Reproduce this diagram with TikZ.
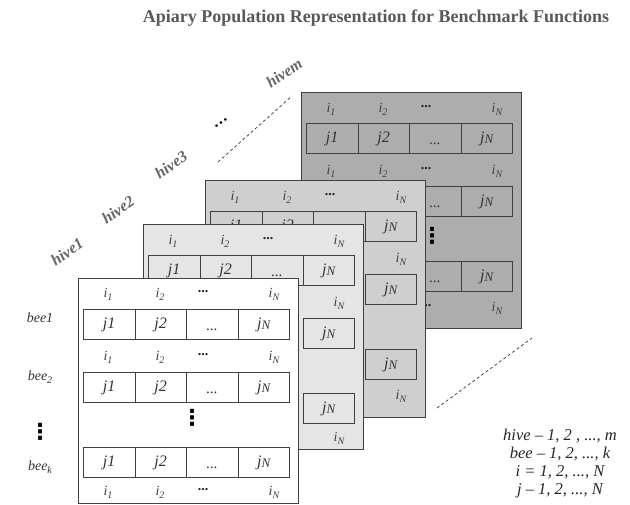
\documentclass[tikz,border=0pt]{standalone}
\usepackage{fontspec}
\setmainfont{Liberation Serif}
\newfontfamily\dotsfont{DejaVu Sans}

% lowered small index after a letter
\newcommand\lowidx[1]{\raisebox{-3pt}{\fontsize{10}{10}\selectfont #1}}

% index labels of one row: #1 name prefix, #2 y
\newcommand\idxrow[2]{%
  \node[idx] (#1-1) at (30,#2) {i\lowidx{1}};
  \node[idx] (#1-2) at (82,#2) {i\lowidx{2}};
  \node[idxdots] (#1-3) at (125,#2-2) {...};
  \node[idx] (#1-4) at (196,#2) {i\lowidx{N}};}
\newcommand\idxlast[2]{%
  \node[idx] (#1-4) at (196,#2) {i\lowidx{N}};}
% cells of one bee: #1 name prefix, #2 top y
\newcommand\cellsfront[2]{%
  \node[cellbox] (#1-c1) at (5,#2) {j1};
  \node[cellbox] (#1-c2) at (56.5,#2) {j2};}
\newcommand\cellsdots[2]{%
  \node[cellbox] (#1-c3) at (108,#2) {};
  \node[celldots] (#1-d) at (133.75,#2+21) {...};}
\newcommand\cellslast[2]{%
  \node[cellbox] (#1-c4) at (159.5,#2) {j\raisebox{-1.5pt}{\fontsize{13}{13}\selectfont N}};}

\begin{document}
\begin{tikzpicture}[x=1pt, y=-1pt,
  panel/.style={draw=black!75, line width=1pt, minimum width=220pt,
    inner sep=0pt, anchor=north west},
  cellbox/.style={draw=black!75, line width=0.9pt, minimum width=51.5pt,
    minimum height=30pt, inner sep=0pt, anchor=north west,
    font=\fontsize{16}{16}\selectfont\itshape, text=black!80},
  celldots/.style={font=\fontsize{15}{15}\selectfont, text=black!80, inner sep=0pt},
  idx/.style={font=\fontsize{14}{14}\selectfont\itshape, text=black!75, inner sep=0pt},
  idxdots/.style={font=\fontsize{14}{14}\selectfont\bfseries, text=black!85, inner sep=0pt},
  vdot/.style={font=\dotsfont\fontsize{22}{22}\selectfont\bfseries, text=black, inner sep=0pt},
  hivelab/.style={font=\fontsize{16}{16}\selectfont\bfseries\itshape,
    text=black!60, rotate=35, inner sep=0pt},
  beelab/.style={font=\fontsize{14}{14}\selectfont\itshape, text=black!80, inner sep=0pt},
  keytext/.style={font=\fontsize{16.5}{18}\selectfont\itshape, text=black!85,
    align=center, inner sep=0pt},
  heading/.style={font=\fontsize{18}{18}\selectfont\bfseries, text=black!65, inner sep=0pt},
  guide/.style={draw=black!70, line width=0.8pt, dash pattern=on 3pt off 2.5pt}
]
\useasboundingbox (0,0) rectangle (630,505);

\node[heading] (title) at (376,18) {Apiary Population Representation for Benchmark Functions};

% hive names along the stacking diagonal
\node[hivelab] (h1) at (67,252) {hive1};
\node[hivelab] (h2) at (118,210) {hive2};
\node[hivelab] (h3) at (171,165) {hive3};
\node[hivelab, text=black, font=\fontsize{16}{16}\selectfont\bfseries] (hdots) at (221,123) {…};
\node[hivelab] (hm) at (284,73) {hivem};

% dashed guides between the front stack and the last hive
\coordinate (ga) at (218,162);
\coordinate (gb) at (292,96);
\coordinate (gc) at (437,408);
\coordinate (gd) at (532,338);
\draw[guide] (ga) -- (gb);
\draw[guide] (gc) -- (gd);

% hive m (back)
\begin{scope}[shift={(301,92)}]
  \node[panel, fill=black!32, minimum height=236pt] (p4) at (0,0) {};
  \idxrow{p4-a}{17}
  \cellsfront{p4-r1}{31}\cellsdots{p4-r1}{31}\cellslast{p4-r1}{31}
  \idxrow{p4-b}{79}
  \cellsdots{p4-r2}{94}\cellslast{p4-r2}{94}
  \node[vdot] (p4-vd) at (131,144) {⋮};
  \cellsdots{p4-r3}{169}\cellslast{p4-r3}{169}
  \node[idxdots] (p4-c-3) at (125,214) {...};
  \idxlast{p4-c}{216}
\end{scope}

% hive 3
\begin{scope}[shift={(205,180)}]
  \node[panel, fill=black!19, minimum height=237pt] (p3) at (0,0) {};
  \idxrow{p3-a}{17}
  \cellsfront{p3-r1}{31}\cellsdots{p3-r1}{31}\cellslast{p3-r1}{31}
  \idxlast{p3-b}{79}
  \cellslast{p3-r2}{94}
  \cellslast{p3-r3}{169}
  \idxlast{p3-c}{216}
\end{scope}

% hive 2
\begin{scope}[shift={(143,224)}]
  \node[panel, fill=black!10, minimum height=225pt] (p2) at (0,0) {};
  \idxrow{p2-a}{17}
  \cellsfront{p2-r1}{31}\cellsdots{p2-r1}{31}\cellslast{p2-r1}{31}
  \idxlast{p2-b}{79}
  \cellslast{p2-r2}{94}
  \cellslast{p2-r3}{169}
  \idxlast{p2-c}{214}
\end{scope}

% hive 1 (front)
\begin{scope}[shift={(78,278)}]
  \node[panel, fill=white, minimum height=225pt] (p1) at (0,0) {};
  \idxrow{p1-a}{16}
  \cellsfront{p1-r1}{31}\cellsdots{p1-r1}{31}\cellslast{p1-r1}{31}
  \idxrow{p1-b}{79}
  \cellsfront{p1-r2}{94}\cellsdots{p1-r2}{94}\cellslast{p1-r2}{94}
  \node[vdot] (p1-vd) at (114,140) {⋮};
  \cellsfront{p1-r3}{169}\cellsdots{p1-r3}{169}\cellslast{p1-r3}{169}
  \idxrow{p1-c}{214}
\end{scope}

% bee names beside the front hive
\node[beelab] (b1) at (40,318) {bee1};
\node[beelab] (b2) at (40,377) {bee\lowidx{2}};
\node[vdot] (bd) at (40,432) {⋮};
\node[beelab] (bk) at (40,467) {bee\lowidx{k}};

\node[keytext] (key) at (560,464) {hive -- 1, 2 , ..., m\\bee -- 1, 2, ..., k\\i = 1, 2, ..., N\\j -- 1, 2, ..., N};
\end{tikzpicture}
\end{document}
